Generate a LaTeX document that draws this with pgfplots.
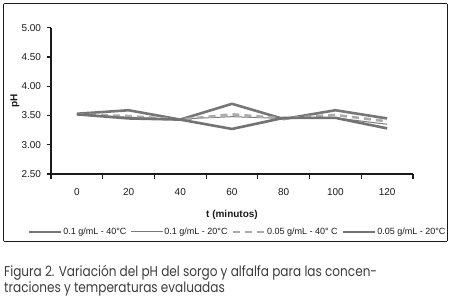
\documentclass[border=0pt]{standalone}
\usepackage{fontspec}
\setmainfont{Liberation Sans}
\newfontfamily\capfont[FakeStretch=0.85]{Poppins}
\usepackage{pgfplots}
\pgfplotsset{compat=1.18}
\definecolor{lnA}{HTML}{767676}
\definecolor{lnB}{HTML}{7A7A7A}
\definecolor{lnC}{HTML}{ABABAB}
\definecolor{lnD}{HTML}{727272}
\definecolor{capgray}{HTML}{3C3C3C}
\definecolor{axk}{HTML}{1A1A1A}
\begin{document}
\begin{tikzpicture}
\path[draw=white, line width=0.1pt] (0pt,0pt) rectangle (451pt,-299pt);
\draw[axk, line width=1.3pt] (3.5pt,-3.5pt) -- (447.5pt,-3.5pt);
\draw[axk, line width=1.3pt] (447.5pt,-3.5pt) -- (447.5pt,-241.5pt);
\draw[axk, line width=1.3pt] (447.5pt,-241.5pt) -- (3.5pt,-241.5pt);
\draw[axk, line width=1.3pt] (3.5pt,-241.5pt) -- (3.5pt,-3.5pt);
\begin{axis}[
  at={(51pt,-174pt)}, anchor=south west,
  scale only axis, width=362pt, height=146.3pt,
  xmin=-0.5, xmax=6.5, ymin=2.5, ymax=5,
  axis x line*=bottom, axis y line*=left,
  axis line style={draw=axk, line width=1.2pt},
  xtick={-0.5,0.5,...,6.5}, xticklabels={},
  extra x ticks={0,1,2,3,4,5,6},
  extra x tick labels={0,20,40,60,80,100,120},
  extra x tick style={major tick length=0pt},
  ytick={2.5,3,3.5,4,4.5,5},
  tick align=outside, major tick length=4.5pt,
  tick style={draw=axk, line width=1.2pt},
  /pgf/number format/fixed, /pgf/number format/fixed zerofill, /pgf/number format/precision=2,
  /pgf/number format/assume math mode=true,
  ticklabel style={font=\fontsize{10}{12}\selectfont, text=axk},
  xticklabel style={anchor=north, yshift=-11pt},
  yticklabel style={anchor=east, xshift=-2pt},
  legend columns=4,
  legend style={at={(0.514,-0.396)}, anchor=center, draw=none, fill=none, inner sep=0pt,
    font=\fontsize{9}{11}\selectfont, text=axk,
    nodes={inner sep=1pt},
    /tikz/every even column/.append style={column sep=3pt}},
  legend image code/.code={\draw[#1] (0pt,0pt) -- (32pt,0pt);},
]
\addplot[lnA, line width=2.6pt, line join=round] coordinates {(0,3.53)(1,3.59)(2,3.43)(3,3.70)(4,3.44)(5,3.59)(6,3.45)};
\addlegendentry{0.1 g/mL - 40°C}
\addplot[lnB, line width=1pt, line join=round] coordinates {(0,3.52)(1,3.47)(2,3.44)(3,3.48)(4,3.45)(5,3.46)(6,3.35)};
\addlegendentry{0.1 g/mL - 20°C}
\addplot[lnC, line width=2.6pt, dash pattern=on 7pt off 5pt] coordinates {(0,3.52)(1,3.49)(2,3.43)(3,3.52)(4,3.45)(5,3.51)(6,3.40)};
\addlegendentry{0.05 g/mL - 40° C}
\addplot[lnD, line width=2.6pt, line join=round] coordinates {(0,3.52)(1,3.45)(2,3.43)(3,3.27)(4,3.46)(5,3.46)(6,3.28)};
\addlegendentry{0.05 g/mL - 20°C}
\end{axis}
\node[anchor=center, inner sep=0, font=\fontsize{10}{12}\selectfont\bfseries, text=axk] at (232pt,-215pt) {t (minutos)};
\node[anchor=center, inner sep=0, rotate=90, font=\fontsize{10}{12}\selectfont\bfseries, text=axk] at (15pt,-101pt) {pH};
\node[anchor=base west, inner sep=0, font=\capfont\fontsize{14.2}{17}\selectfont, text=capgray] at (4pt,-276.7pt) {Figura 2. Variación del pH del sorgo y alfalfa para las concen-};
\node[anchor=base west, inner sep=0, font=\capfont\fontsize{14.2}{17}\selectfont, text=capgray] at (4pt,-293pt) {traciones y temperaturas evaluadas};
\end{tikzpicture}
\end{document}
